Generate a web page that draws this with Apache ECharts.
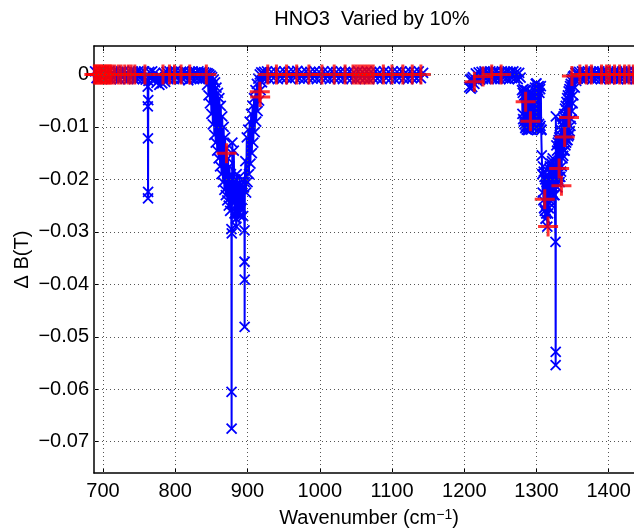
<!DOCTYPE html>
<html>
<head>
<meta charset="utf-8">
<script src="https://cdn.jsdelivr.net/npm/echarts@6/dist/echarts.min.js"></script>
<style>
html, body { margin: 0; padding: 0; background: #ffffff; }
#chart { width: 634px; height: 530px; }
</style>
</head>
<body>
<div id="chart"></div>
<script>
// Brightness-temperature change when the HNO3 profile is scaled by 10 %.
// Each array holds [wavenumber (cm^-1), delta B (K)] pairs.

// Tick positions shared by labels, ticks and grid lines
const xTicks = [700, 800, 900, 1000, 1100, 1200, 1300, 1400];
const yTicks = [0, -0.01, -0.02, -0.03, -0.04, -0.05, -0.06, -0.07];

// High-resolution spectrum, 687-842 cm^-1 (with the narrow line near 762)
const blueWingA = [
  [687,-0.0004],[689,0.0006],[691,-0.0007],[693,0.0004],[695,-0.0008],[697,0.0006],[699,-0.0005],
  [701,0.0007],[703,-0.0008],[705,0.0005],[707,-0.0006],[709,0.0007],[711,-0.0009],[713,0.0004],
  [715,-0.0007],[717,0.0006],[719,-0.0008],[721,0.0005],[723,-0.0009],[725,0.0006],[727,-0.0006],
  [729,0.0007],[731,-0.0008],[733,0.0004],[735,-0.0009],[737,0.0005],[739,-0.0007],[741,0.0006],
  [743,-0.0009],[745,0.0005],[747,-0.0008],[749,0.0006],[751,-0.0007],[753,0.0005],[755,-0.0009],
  [757,0.0006],[759,-0.0010],
  [761.8,-0.0023],[762.0,-0.0061],[762.2,-0.0122],[762.3,-0.0236],[762.4,-0.0224],[762.6,-0.0049],[762.9,-0.0012],
  [764,0.0005],[766,-0.0008],[768,0.0006],[770,-0.0009],[772,0.0003],[774,-0.0016],[776,-0.0002],
  [778,-0.0020],[780,-0.0004],[782,-0.0017],[784,0.0003],[786,-0.0014],[788,0.0005],[790,-0.0009],
  [792,0.0006],[794,-0.0008],[796,0.0005],[798,-0.0009],[800,0.0006],[802,-0.0007],[804,0.0004],
  [806,-0.0010],[808,0.0005],[810,-0.0008],[812,0.0006],[814,-0.0007],[816,0.0004],[818,-0.0011],
  [820,0.0005],[822,-0.0008],[824,0.0006],[826,-0.0009],[828,0.0004],[830,-0.0008],[832,0.0006],
  [834,-0.0009],[836,0.0005],[838,-0.0008],[840,0.0004],[842,-0.0006]
];

// nu5 / 2nu9 band of HNO3, 843-925 cm^-1
const blueBand880 = [
  [843,0.0003],[844,-0.002],[845,0.0002],[846,-0.004],[847,0],[848,-0.0055],[849,-0.0002],
  [850,-0.0075],[851,-0.0005],[852,-0.0095],[853,-0.001],[854,-0.0115],[855,-0.0015],[856,-0.013],
  [857,-0.0025],[858,-0.0145],[859,-0.0035],[860,-0.016],[861,-0.0045],[862,-0.0175],[863,-0.006],
  [864,-0.019],[865,-0.008],[866,-0.0205],[867,-0.010],[868,-0.022],[869,-0.012],[870,-0.023],
  [871,-0.014],[872,-0.024],[873,-0.016],[874,-0.025],[875,-0.0175],[876,-0.026],[877,-0.019],
  [877.7,-0.0295],[877.9,-0.0605],[878,-0.0675],[878.2,-0.0303],
  [879,-0.013],[880,-0.0245],[881,-0.0145],[882,-0.0265],[883,-0.02],[884,-0.0275],[884.6,-0.029],
  [885,-0.019],[886,-0.0265],[887,-0.021],[888,-0.0265],[889,-0.0195],[890,-0.027],[891,-0.021],
  [892,-0.0255],[893,-0.02],[894,-0.027],[895,-0.0215],
  [895.8,-0.0297],[895.9,-0.0357],[896,-0.0481],[896.1,-0.0391],[896.3,-0.0205],
  [897,-0.0165],[898,-0.0225],[899,-0.012],[900,-0.0205],[901,-0.0105],[902,-0.019],[903,-0.009],
  [904,-0.017],[905,-0.0075],[906,-0.015],[907,-0.006],[908,-0.013],[909,-0.0045],[910,-0.011],
  [911,-0.003],[912,-0.009],[913,-0.0018],[914,-0.007],[915,-0.0008],[916,-0.005],[917,0],
  [918,-0.003],[919,0.0004],[920,-0.0015],[921,0.0002],[922,-0.0008],[923,0.0005],[925,-0.0007]
];

// Window region, 926-1145 cm^-1
const blueWingB = [
  [927,0.0006],[930,-0.0008],[933,0.0005],[936,-0.0007],[939,0.0006],[942,-0.0009],[945,0.0004],
  [948,-0.0008],[951,0.0006],[954,-0.0007],[957,0.0005],[960,-0.0009],[963,0.0006],[966,-0.0006],
  [969,0.0007],[972,-0.0008],[975,0.0004],[978,-0.0009],[981,0.0006],[984,-0.0007],[987,0.0005],
  [990,-0.0008],[993,0.0006],[996,-0.0009],[999,0.0005],[1002,-0.0007],[1005,0.0006],[1008,-0.0008],
  [1011,0.0004],[1014,-0.0009],[1017,0.0006],[1020,-0.0007],[1023,0.0005],[1026,-0.0008],[1029,0.0006],
  [1032,-0.0009],[1035,0.0005],[1038,-0.0007],[1041,0.0006],[1044,-0.0008],[1047,0.0004],[1050,-0.0009],
  [1053,0.0006],[1056,-0.0007],[1059,0.0005],[1062,-0.0008],[1065,0.0006],[1068,-0.0009],[1071,0.0005],
  [1074,-0.0007],[1077,0.0006],[1080,-0.0008],[1083,0.0004],[1086,-0.0009],[1089,0.0006],[1092,-0.0007],
  [1095,0.0005],[1098,-0.0008],[1101,0.0006],[1104,-0.0009],[1107,0.0005],[1110,-0.0007],[1113,0.0006],
  [1116,-0.0008],[1119,0.0004],[1122,-0.0009],[1125,0.0006],[1128,-0.0007],[1131,0.0005],[1134,-0.0008],
  [1137,0.0006],[1140,-0.0007],[1143,0.0003]
];

// 1207-1278 cm^-1
const blueWingC = [
  [1207,-0.0024],[1208,-0.0010],[1209,-0.0027],[1210,-0.0008],[1211,-0.0024],[1212,-0.0005],
  [1214,-0.0018],[1216,0.0002],[1218,-0.0012],[1220,0.0004],[1222,-0.0010],[1224,0.0005],
  [1226,-0.0009],[1228,0.0006],[1230,-0.0008],[1232,0.0005],[1234,-0.0009],[1236,0.0006],
  [1238,-0.0007],[1240,0.0005],[1242,-0.0009],[1244,0.0006],[1246,-0.0008],[1248,0.0004],
  [1250,-0.0009],[1252,0.0006],[1254,-0.0007],[1256,0.0005],[1258,-0.0008],[1260,0.0006],
  [1262,-0.0009],[1264,0.0005],[1266,-0.0007],[1268,0.0006],[1270,-0.0008],[1272,0.0004],
  [1274,-0.0009],[1276,0.0003],[1278,-0.0006]
];

// nu4 band of HNO3, 1280-1356 cm^-1
const blueBand1320 = [
  [1280,-0.003],[1280.5,-0.0075],[1281,-0.0035],[1281.5,-0.0085],[1282,-0.0028],[1282.5,-0.009],
  [1283,-0.004],[1283.5,-0.0095],[1284,-0.003],[1284.5,-0.0102],[1285,-0.0042],[1285.5,-0.0098],
  [1286,-0.003],[1286.5,-0.0105],[1287,-0.0045],[1287.5,-0.0100],[1288,-0.0035],[1288.5,-0.0106],
  [1289,-0.005],[1289.5,-0.0098],[1290,-0.004],[1290.5,-0.0104],[1291,-0.0052],[1291.5,-0.0096],
  [1292,-0.0045],[1292.5,-0.0105],[1293,-0.0035],[1293.5,-0.0095],[1294,-0.0048],[1294.5,-0.010],
  [1295,-0.0038],[1295.5,-0.0092],[1296,-0.005],[1296.5,-0.0102],[1297,-0.003],[1297.5,-0.0088],
  [1298,-0.0025],[1298.5,-0.0095],[1299,-0.0018],[1299.5,-0.0085],[1300,-0.0017],[1300.5,-0.009],
  [1301,-0.0025],[1301.5,-0.0098],[1302,-0.003],[1302.5,-0.0105],[1303,-0.0022],[1303.5,-0.0094],
  [1304,-0.0035],[1304.5,-0.0102],[1305,-0.0028],[1305.5,-0.0098],[1306,-0.0022],[1306.5,-0.0106],
  [1307,-0.0105],[1307.3,-0.0154],
  [1308,-0.019],[1308.5,-0.0225],[1309,-0.0175],[1309.5,-0.024],[1310,-0.0185],[1310.5,-0.0255],
  [1311,-0.0195],[1311.5,-0.026],[1312,-0.02],[1312.5,-0.0275],[1313,-0.0195],[1313.5,-0.0265],
  [1314,-0.0205],[1315,-0.029],[1315.5,-0.021],[1316,-0.0265],[1316.5,-0.0195],[1317,-0.0255],
  [1317.5,-0.018],[1318,-0.0245],[1318.5,-0.0175],[1319,-0.024],[1319.5,-0.0185],[1320,-0.0235],
  [1320.5,-0.017],[1321,-0.0225],[1321.5,-0.0165],[1322,-0.0225],[1322.5,-0.016],[1323,-0.0215],
  [1323.5,-0.0175],[1324,-0.023],[1324.5,-0.018],[1325,-0.023],
  [1326.3,-0.0319],[1326.5,-0.0554],[1326.6,-0.0529],[1326.8,-0.008],
  [1327,-0.019],[1327.5,-0.0135],[1328,-0.0205],[1328.5,-0.0145],[1329,-0.0215],[1329.5,-0.013],
  [1330,-0.02],[1330.5,-0.0125],[1331,-0.0195],[1331.5,-0.012],[1332,-0.0205],[1332.5,-0.0115],
  [1333,-0.0195],[1333.5,-0.0105],[1334,-0.0185],[1334.5,-0.0095],[1335,-0.0175],[1335.5,-0.0095],
  [1336,-0.016],[1336.5,-0.0085],[1337,-0.0155],[1337.5,-0.008],[1338,-0.0145],[1338.5,-0.0075],
  [1339,-0.0145],[1339.5,-0.0065],[1340,-0.0135],[1340.5,-0.006],[1341,-0.013],[1341.5,-0.0052],
  [1342,-0.0125],[1342.5,-0.0045],[1343,-0.0125],[1343.5,-0.004],[1344,-0.0118],[1344.5,-0.0032],
  [1345,-0.0115],[1345.5,-0.0028],[1346,-0.0108],[1346.5,-0.0022],[1347,-0.0098],[1347.5,-0.0018],
  [1348,-0.0085],[1348.5,-0.0012],[1349,-0.007],[1349.5,-0.0008],[1350,-0.0055],[1350.5,-0.0004],
  [1351,-0.004],[1352,-0.0002],[1353,-0.0025],[1354,0.0003],[1355,-0.0012],[1356,0.0004]
];

// 1357-1447 cm^-1
const blueWingD = [
  [1357,-0.0008],[1359,0.0005],[1361,-0.0007],[1363,0.0006],[1365,-0.0009],[1367,0.0004],
  [1369,-0.0008],[1371,0.0006],[1373,-0.0007],[1375,0.0005],[1377,-0.0009],[1379,0.0006],
  [1381,-0.0008],[1383,0.0004],[1385,-0.0007],[1387,0.0006],[1389,-0.0009],[1391,0.0005],
  [1393,-0.0008],[1395,0.0006],[1397,-0.0007],[1399,0.0004],[1401,-0.0009],[1403,0.0006],
  [1405,-0.0008],[1407,0.0005],[1409,-0.0007],[1411,0.0006],[1413,-0.0009],[1415,0.0004],
  [1417,-0.0008],[1419,0.0006],[1421,-0.0007],[1423,0.0005],[1425,-0.0009],[1427,0.0006],
  [1429,-0.0008],[1431,0.0004],[1433,-0.0007],[1435,0.0006],[1437,-0.0009],[1439,0.0005],
  [1441,-0.0008],[1443,0.0006],[1445,-0.0007],[1447,0.0004]
];

// Channel-averaged values (red crosses)
const redFlatLow = [
  [688,0],[690,0],[692,0],[694,0],[696,0],[698,0],[700,0],[702,0],[704,0],[706,0],[708,0],
  [710,0],[712,0],[716,0],[721,0],[725,0],[730,0],[735,0],[739,0],[744,0],[758,0],
  [783,0],[792,0],[799,0],[808,0],[820,0],[843,0]
];
const redBand880 = [[871,-0.0150],[917,-0.0033],[917.5,-0.0043]];
const redFlatMid = [
  [928,0],[940,0],[954,0],[968,0],[985,0],[1003,0],[1020,0],[1035,0],[1046,0],[1050,0],
  [1054,0],[1058,0],[1062,0],[1066,0],[1070,0],[1074,0],[1088,0],[1100,0],[1115,0],[1128,0],[1140,0],
  [1214,-0.0014],[1226,-0.0004],[1238,0],[1251,0]
];
const redBand1320 = [
  [1285,-0.0052],[1291.6,-0.0089],[1311.4,-0.0238],[1316,-0.029],[1331.3,-0.0179],
  [1334.5,-0.0212],[1339,-0.0119],[1345,-0.0082]
];
const redFlatHigh = [
  [1349,-0.0003],[1360,0],[1369,0],[1376,0],[1390,0],[1397,0],[1401,0],[1408,0],
  [1415,0],[1422,0],[1428,0],[1434,0],[1441,0]
];

const FONT = '"Liberation Sans", Arial, Helvetica, sans-serif';
const GAP = '-';

const blueSeries = [].concat(
  blueWingA, blueBand880, blueWingB, [[1175, GAP]],
  blueWingC, [[1279, GAP]], blueBand1320, blueWingD
);
const redSeries = [].concat(redFlatLow, redBand880, redFlatMid, redBand1320, redFlatHigh);

const fmtY = v => (Math.abs(v) < 1e-9 ? '0' : (v < 0 ? '\u2212' : '') + Math.abs(v).toFixed(2));
const fmtX = v => String(Math.round(v));

const chart = echarts.init(document.getElementById('chart'), null, { renderer: 'canvas' });

const textBase = { fontFamily: FONT, color: '#000000' };

chart.setOption({
  animation: false,
  backgroundColor: '#ffffff',
  title: {
    text: 'HNO3  Varied by 10%',
    left: 367, top: 4, textAlign: 'center',
    textStyle: Object.assign({ fontSize: 20, fontWeight: 'normal' }, textBase)
  },
  grid: { left: 94, top: 46, width: 550, height: 427, outerBoundsMode: 'none', containLabel: false },
  xAxis: [{
    type: 'value', min: 687.5, max: 1448.8, position: 'bottom',
    axisLine: { show: true, onZero: false, lineStyle: { color: '#000', width: 1.5 } },
    axisTick: { show: true, inside: true, length: 5, customValues: xTicks, lineStyle: { color: '#000', width: 1 } },
    axisLabel: Object.assign({ customValues: xTicks, fontSize: 20, margin: 8, formatter: fmtX }, textBase),
    splitLine: { show: false },
    name: 'Wavenumber (cm{sup|\u22121})',
    nameLocation: 'middle', nameGap: 35,
    nameTextStyle: Object.assign({ fontSize: 20, rich: { sup: { fontFamily: FONT, fontSize: 14, verticalAlign: 'top', color: '#000' } } }, textBase)
  }, {
    type: 'value', min: 687.5, max: 1448.8, position: 'top',
    axisLine: { show: true, onZero: false, lineStyle: { color: '#000', width: 1.5 } },
    axisTick: { show: true, inside: true, length: 5, customValues: xTicks, lineStyle: { color: '#000', width: 1 } },
    axisLabel: { show: false },
    splitLine: { show: false }
  }],
  yAxis: {
    type: 'value', min: -0.07597, max: 0.00543,
    axisLine: { show: true, onZero: false, lineStyle: { color: '#000', width: 1.5 } },
    axisTick: { show: true, inside: true, length: 5, customValues: yTicks, lineStyle: { color: '#000', width: 1 } },
    axisLabel: Object.assign({ customValues: yTicks, fontSize: 20, margin: 5, formatter: fmtY }, textBase),
    splitLine: { show: false },
    name: '\u0394 B(T)', nameLocation: 'middle', nameGap: 62, nameRotate: 90, nameMoveOverlap: false,
    nameTextStyle: Object.assign({ fontSize: 20 }, textBase)
  },
  series: [
    {
      // dotted grid at the tick positions
      type: 'line', data: [], z: 1, silent: true,
      markLine: {
        silent: true, symbol: 'none', animation: false,
        label: { show: false },
        lineStyle: { color: '#555', width: 1, type: [1, 3] },
        emphasis: { disabled: true },
        data: xTicks.map(v => ({ xAxis: v })).concat(yTicks.map(v => ({ yAxis: v })))
      }
    },
    {
      name: 'line-by-line', type: 'line', z: 2,
      data: blueSeries,
      connectNulls: false, showAllSymbol: true, sampling: null,
      symbol: 'path://M0,0L10,10M10,0L0,10', symbolSize: 10,
      lineStyle: { color: '#0000ff', width: 2 },
      itemStyle: { color: 'rgba(0,0,0,0)', borderColor: '#0000ff', borderWidth: 1.8 },
      emphasis: { disabled: true }
    },
    {
      name: 'channel', type: 'scatter', z: 3,
      data: redSeries,
      symbol: 'path://M5,0L5,10M0,5L10,5', symbolSize: 20,
      itemStyle: { color: 'rgba(0,0,0,0)', borderColor: '#ff0000', borderWidth: 3 },
      emphasis: { disabled: true }
    }
  ]
});
</script>
</body>
</html>
